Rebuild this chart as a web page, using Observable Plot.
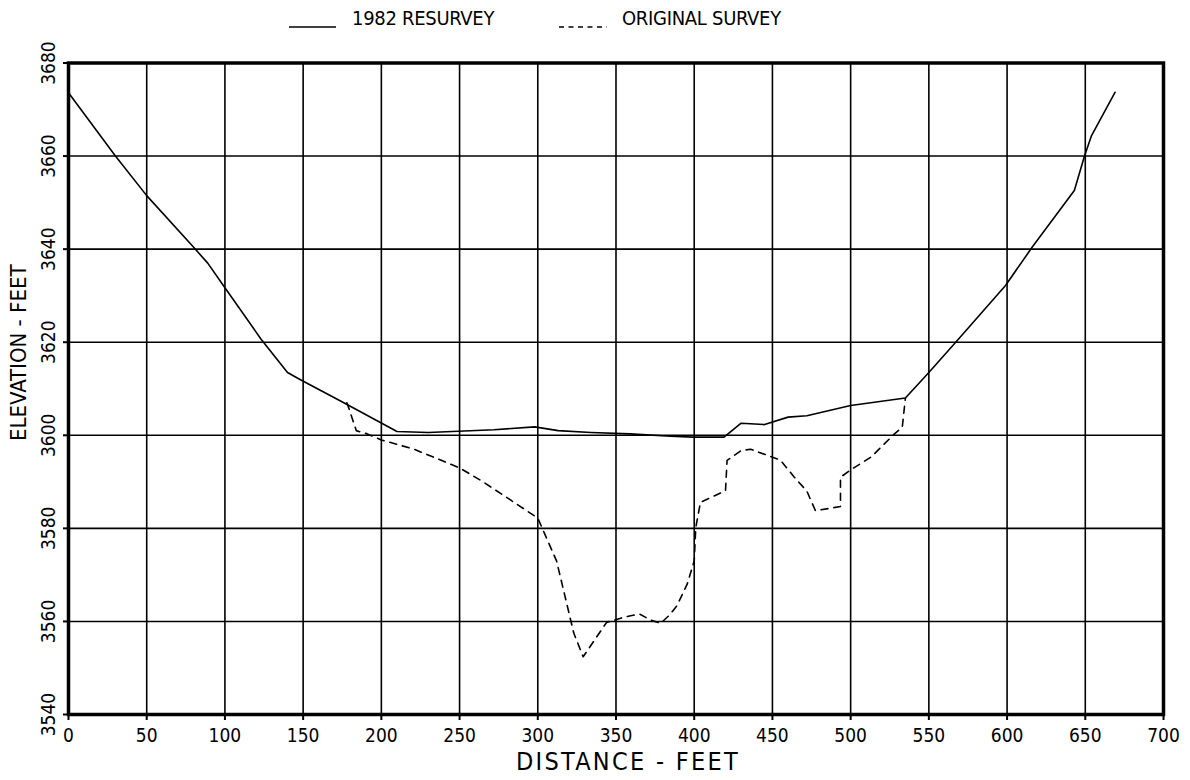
<!DOCTYPE html>
<html>
<head>
<meta charset="utf-8">
<script src="https://cdn.jsdelivr.net/npm/d3@7"></script>
<script src="https://cdn.jsdelivr.net/npm/@observablehq/plot@0.6"></script>
<style>
  html, body { margin: 0; padding: 0; background: #fff; }
  #wrap { position: relative; width: 1190px; height: 780px; font-family: "DejaVu Sans Condensed", "Liberation Sans Narrow", sans-serif; color: #000; }
  #legend { position: absolute; left: 0; top: 0; width: 1190px; height: 40px; }
  .lg { position: absolute; top: 6px; font-size: 20px; letter-spacing: -0.3px; line-height: 24px; white-space: nowrap; }
  .sw { position: absolute; top: 24px; width: 48px; height: 6px; }
  #chart { position: absolute; left: 0; top: 40px; }
</style>
</head>
<body>
<div id="wrap">
  <div id="legend">
    <svg class="sw" style="left:289px;" width="48" height="6"><line x1="0" y1="3" x2="47" y2="3" stroke="#000" stroke-width="1.5"/></svg>
    <div class="lg" style="left:352px;">1982 RESURVEY</div>
    <svg class="sw" style="left:559px;" width="48" height="6"><line x1="0" y1="3" x2="48" y2="3" stroke="#000" stroke-width="1.5" stroke-dasharray="5,4.5"/></svg>
    <div class="lg" style="left:622px;">ORIGINAL SURVEY</div>
  </div>
  <div id="chart"></div>
</div>
<script>
// 1982 resurvey: distance (ft) and elevation (ft)
const resurveyDist = [0, 30, 50, 80, 89, 99, 123, 140, 148, 176, 210, 230, 272, 298, 313, 334, 359, 385, 399, 419, 422, 430, 445, 460, 472, 500, 535, 550, 569, 599, 616, 643, 649.5, 654, 669];
const resurveyElev = [3673.6, 3660, 3651.5, 3640.4, 3637, 3632.2, 3620.7, 3613.5, 3612, 3607, 3600.8, 3600.6, 3601.2, 3601.8, 3601, 3600.6, 3600.3, 3599.8, 3599.6, 3599.6, 3600.4, 3602.6, 3602.3, 3603.9, 3604.2, 3606.4, 3608, 3613.5, 3620.7, 3632.2, 3640.4, 3652.6, 3660, 3664.4, 3673.7];

// Original survey
const originalDist = [178, 184, 191, 200, 221, 250, 265, 283, 300, 312, 323, 329, 344, 355, 365, 372, 378.5, 384, 389, 395.5, 400, 401, 404, 420, 421, 430, 436, 450, 455, 464, 472, 477.5, 493.5, 493.5, 502, 513, 528, 533, 535];
const originalElev = [3607, 3601, 3600.3, 3599, 3597, 3593, 3590, 3586, 3582.2, 3573, 3557.5, 3552.4, 3559.8, 3560.9, 3561.6, 3560.3, 3559.6, 3561.3, 3563.4, 3568, 3573, 3580.2, 3585.6, 3588.1, 3594.6, 3596.7, 3597, 3595.3, 3594.7, 3591, 3588, 3583.8, 3584.7, 3591, 3593, 3595.3, 3600.3, 3601.7, 3608];

const xTicks = [0, 50, 100, 150, 200, 250, 300, 350, 400, 450, 500, 550, 600, 650, 700];
const yTicks = [3540, 3560, 3580, 3600, 3620, 3640, 3660, 3680];
const xTitle = "DISTANCE - FEET";
const yTitle = "ELEVATION - FEET";

const resurvey = resurveyDist.map((d, i) => ({x: d, y: resurveyElev[i]}));
const original = originalDist.map((d, i) => ({x: d, y: originalElev[i]}));

const font = '"DejaVu Sans Condensed", "Liberation Sans Narrow", sans-serif';

const chart = Plot.plot({
  width: 1190,
  height: 740,
  marginTop: 22.5,
  marginBottom: 66,
  marginLeft: 68,
  marginRight: 27,
  style: {fontFamily: font, background: "#fff", color: "#000"},
  x: {domain: [0, 700]},
  y: {domain: [3540, 3680]},
  marks: [
    Plot.gridX(xTicks, {stroke: "#000", strokeOpacity: 1, strokeWidth: 1.6}),
    Plot.gridY(yTicks, {stroke: "#000", strokeOpacity: 1, strokeWidth: 1.6}),
    Plot.axisX({ticks: xTicks, tickSize: 6, tickFormat: () => "", label: null, stroke: "#000", strokeWidth: 2}),
    Plot.axisY({ticks: yTicks, tickSize: 5, tickFormat: () => "", label: null, stroke: "#000", strokeWidth: 2}),
    Plot.text(xTicks, {x: d => d, text: d => String(d), frameAnchor: "bottom", dy: 21, lineAnchor: "middle", fontSize: 19, fill: "#000"}),
    Plot.text(yTicks, {y: d => d, text: d => String(d), frameAnchor: "left", dx: -20, rotate: -90, textAnchor: "middle", lineAnchor: "middle", fontSize: 19, fill: "#000"}),
    Plot.text([xTitle], {frameAnchor: "bottom", dy: 47, dx: 12, lineAnchor: "middle", fontSize: 25, fill: "#000"}),
    Plot.text([yTitle], {frameAnchor: "left", dx: -50, dy: -36, rotate: -90, textAnchor: "middle", lineAnchor: "middle", fontSize: 22, fill: "#000"}),
    Plot.line(original, {x: "x", y: "y", stroke: "#000", strokeWidth: 1.6, strokeDasharray: "7,6"}),
    Plot.line(resurvey, {x: "x", y: "y", stroke: "#000", strokeWidth: 1.6}),
    Plot.frame({stroke: "#000", strokeWidth: 3.5})
  ]
});
d3.select(chart).selectAll("text").filter(function() { return this.textContent === xTitle; })
  .style("letter-spacing", "2.3px");
document.getElementById("chart").appendChild(chart);
</script>
</body>
</html>
